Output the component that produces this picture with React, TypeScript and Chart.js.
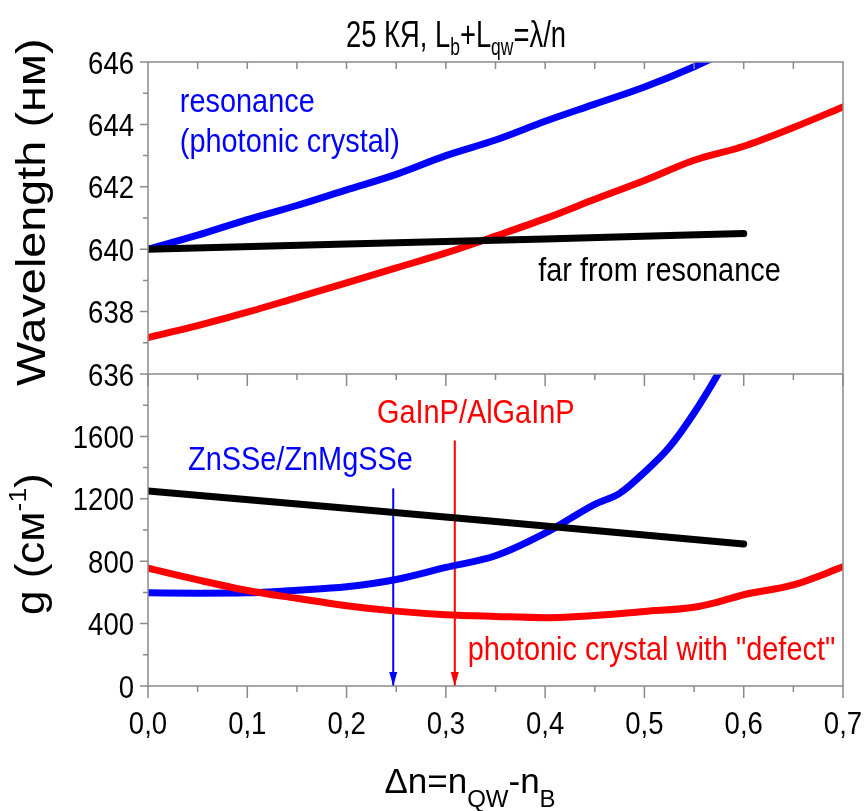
import React, { useEffect, useRef } from 'react';
import { Chart, registerables } from 'chart.js';

Chart.register(...registerables);

// ---------- data ----------
const xResonance = [0, 0.05, 0.1, 0.15, 0.2, 0.25, 0.3, 0.35, 0.4, 0.45, 0.5, 0.55, 0.6];
const wlResonance = [640.0, 640.45, 640.95, 641.4, 641.9, 642.4, 643.0, 643.5, 644.1, 644.65, 645.2, 645.85, 646.6];

const xDefect = [0, 0.05, 0.1, 0.15, 0.2, 0.25, 0.3, 0.35, 0.4, 0.45, 0.5, 0.55, 0.6, 0.65, 0.7];
const wlDefect = [637.17, 637.55, 637.98, 638.45, 638.92, 639.4, 639.88, 640.42, 640.98, 641.6, 642.2, 642.85, 643.3, 643.9, 644.56];

const xFar = [0, 0.2, 0.4, 0.6];
const wlFar = [640.0, 640.17, 640.33, 640.5];

const xGainRes = [0, 0.05, 0.1, 0.15, 0.2, 0.25, 0.3, 0.35, 0.4, 0.45, 0.475, 0.5, 0.525, 0.55, 0.575, 0.6];
const gainResonance = [597, 595, 597, 614, 636, 683, 760, 835, 980, 1165, 1235, 1370, 1530, 1750, 2010, 2300];

const xGainDefect = [0, 0.05, 0.1, 0.15, 0.2, 0.25, 0.3, 0.35, 0.4, 0.45, 0.5, 0.55, 0.575, 0.6, 0.65, 0.7];
const gainDefect = [755, 680, 612, 562, 515, 480, 457, 446, 438, 452, 478, 505, 540, 585, 648, 764];

const xGainFar = [0, 0.2, 0.4, 0.6];
const gainFar = [1250, 1140, 1025, 910];

// arrows marking material systems
const arrowX = [0.247, 0.309];
const arrowTop = [1267, 1574];

// ticks
const xTickValues = [0, 0.1, 0.2, 0.3, 0.4, 0.5, 0.6, 0.7];
const xTickLabels = ['0,0', '0,1', '0,2', '0,3', '0,4', '0,5', '0,6', '0,7'];
const xMinorStep = 0.05;
const wlTickValues = [636, 638, 640, 642, 644, 646];
const wlTickLabels = ['636', '638', '640', '642', '644', '646'];
const gTickValues = [0, 400, 800, 1200, 1600];
const gTickLabels = ['0', '400', '800', '1200', '1600'];

// ---------- styles ----------
const BLUE = '#0000ff';
const RED = '#ff0000';
const BLACK = '#000000';
const FRAME = '#8a8a8a';
const FONT = "'Liberation Sans', Arial, Helvetica, sans-serif";

type Seg = { t: string; size: number; dy?: number };

function drawRich(ctx: CanvasRenderingContext2D, segs: Seg[], x: number, y: number, sx: number, align: string, color: string) {
  ctx.save();
  ctx.fillStyle = color;
  ctx.textBaseline = 'alphabetic';
  let total = 0;
  const widths = segs.map((s) => {
    ctx.font = `${s.size}px ${FONT}`;
    const w = ctx.measureText(s.t).width * sx;
    total += w;
    return w;
  });
  let cx = x;
  if (align === 'center') cx = x - total / 2;
  else if (align === 'right') cx = x - total;
  segs.forEach((s, i) => {
    ctx.save();
    ctx.font = `${s.size}px ${FONT}`;
    ctx.translate(cx, y + (s.dy || 0));
    ctx.scale(sx, 1);
    ctx.fillText(s.t, 0, 0);
    ctx.restore();
    cx += widths[i];
  });
  ctx.restore();
  return total;
}

const annotations = [
  { text: 'resonance', x: 0.032, y: 644.39, axis: 'yW', color: BLUE },
  { text: '(photonic crystal)', x: 0.032, y: 643.11, axis: 'yW', color: BLUE },
  { text: 'far from resonance', x: 0.393, y: 638.99, axis: 'yW', color: BLACK },
  { text: 'GaInP/AlGaInP', x: 0.2306, y: 1683, axis: 'yG', color: RED },
  { text: 'ZnSSe/ZnMgSSe', x: 0.0403, y: 1382, axis: 'yG', color: BLUE },
  { text: 'photonic crystal with "defect"', x: 0.322, y: 166, axis: 'yG', color: RED },
];

const clipPlugin = {
  id: 'panelClip',
  beforeDatasetDraw(chart: any, args: any) {
    const ds = chart.data.datasets[args.index];
    const s = chart.scales[ds.yAxisID];
    const ca = chart.chartArea;
    const ctx = chart.ctx;
    ctx.save();
    ctx.beginPath();
    ctx.rect(ca.left, s.top, ca.right - ca.left, s.bottom - s.top);
    ctx.clip();
  },
  afterDatasetDraw(chart: any) {
    chart.ctx.restore();
  },
};

const decorPlugin = {
  id: 'decor',
  afterDatasetsDraw(chart: any) {
    const ctx: CanvasRenderingContext2D = chart.ctx;
    const ca = chart.chartArea;
    const xs = chart.scales.x;
    const yW = chart.scales.yW;
    const yG = chart.scales.yG;

    // arrowheads
    arrowX.forEach((v, i) => {
      const px = xs.getPixelForValue(v);
      const tip = yG.getPixelForValue(0);
      ctx.save();
      ctx.fillStyle = i === 0 ? BLUE : RED;
      ctx.beginPath();
      ctx.moveTo(px, tip);
      ctx.lineTo(px - 4, tip - 14);
      ctx.lineTo(px + 4, tip - 14);
      ctx.closePath();
      ctx.fill();
      ctx.restore();
    });

    // frame
    ctx.save();
    ctx.strokeStyle = FRAME;
    ctx.lineWidth = 1.5;
    ctx.beginPath();
    ctx.rect(ca.left, ca.top, ca.right - ca.left, ca.bottom - ca.top);
    ctx.moveTo(ca.left, yW.bottom);
    ctx.lineTo(ca.right, yW.bottom);
    ctx.stroke();

    // x ticks
    ctx.beginPath();
    const nX = Math.round((xs.max - xs.min) / xMinorStep);
    for (let k = 0; k <= nX; k++) {
      const v = xs.min + k * xMinorStep;
      const px = xs.getPixelForValue(v);
      const major = k % 2 === 0;
      const len = major ? 12 : 6;
      ctx.moveTo(px, yG.bottom);
      ctx.lineTo(px, yG.bottom + len);
      ctx.moveTo(px, yW.bottom);
      ctx.lineTo(px, yW.bottom + len);
      if (k > 0 && k < nX) {
        ctx.moveTo(px, yW.top);
        ctx.lineTo(px, yW.top + 7);
      }
    }
    // y ticks (outward, left)
    for (let v = yW.min; v <= yW.max + 1e-6; v += 1) {
      const py = yW.getPixelForValue(v);
      const len = Math.round(v) % 2 === 0 ? 8 : 5;
      ctx.moveTo(ca.left, py);
      ctx.lineTo(ca.left - len, py);
    }
    for (let v = yG.min; v < yG.max - 1e-6; v += 200) {
      const py = yG.getPixelForValue(v);
      const len = Math.round(v) % 400 === 0 ? 8 : 5;
      ctx.moveTo(ca.left, py);
      ctx.lineTo(ca.left - len, py);
    }
    ctx.stroke();
    ctx.restore();
  },
  afterDraw(chart: any) {
    const ctx: CanvasRenderingContext2D = chart.ctx;
    const xs = chart.scales.x;
    const yW = chart.scales.yW;
    const yG = chart.scales.yG;
    const ca = chart.chartArea;
    const TS = 32;
    const TSX = 0.86;

    // tick labels
    xTickValues.forEach((v, i) => {
      drawRich(ctx, [{ t: xTickLabels[i], size: TS }], xs.getPixelForValue(v), ca.bottom + 48, TSX, 'center', BLACK);
    });
    wlTickValues.forEach((v, i) => {
      drawRich(ctx, [{ t: wlTickLabels[i], size: TS }], ca.left - 14, yW.getPixelForValue(v) + 11.5, TSX, 'right', BLACK);
    });
    gTickValues.forEach((v, i) => {
      drawRich(ctx, [{ t: gTickLabels[i], size: TS }], ca.left - 14, yG.getPixelForValue(v) + 11.5, TSX, 'right', BLACK);
    });

    // title
    drawRich(
      ctx,
      [
        { t: '25 КЯ, L', size: 36 },
        { t: 'b', size: 23, dy: 8 },
        { t: '+L', size: 36 },
        { t: 'qw', size: 23, dy: 8 },
        { t: '=λ/n', size: 36 },
      ],
      456,
      47,
      0.76,
      'center',
      BLACK
    );

    // x axis title
    drawRich(
      ctx,
      [
        { t: 'Δn=n', size: 35 },
        { t: 'QW', size: 24, dy: 14 },
        { t: '-n', size: 35 },
        { t: 'B', size: 24, dy: 14 },
      ],
      470,
      793,
      1.0,
      'center',
      BLACK
    );

    // y axis titles (rotated)
    ctx.save();
    ctx.translate(45, 386);
    ctx.rotate(-Math.PI / 2);
    drawRich(ctx, [{ t: 'Wavelength (нм)', size: 40 }], 0, 0, 1.17, 'left', BLACK);
    ctx.restore();

    ctx.save();
    ctx.translate(44, 615);
    ctx.rotate(-Math.PI / 2);
    drawRich(
      ctx,
      [
        { t: 'g (см', size: 40 },
        { t: '-1', size: 24, dy: -18 },
        { t: ')', size: 40 },
      ],
      0,
      0,
      1.1,
      'left',
      BLACK
    );
    ctx.restore();

    // annotations
    annotations.forEach((a) => {
      const s = chart.scales[a.axis];
      drawRich(ctx, [{ t: a.text, size: 34 }], xs.getPixelForValue(a.x), s.getPixelForValue(a.y), 0.85, 'left', a.color);
    });
  },
};

function pts(xs: number[], ys: number[]) {
  return xs.map((x, i) => ({ x, y: ys[i] }));
}

export default function App() {
  const ref = useRef<HTMLCanvasElement | null>(null);

  useEffect(() => {
    if (!ref.current) return;
    const hidden = {
      display: true,
      ticks: { display: false },
      grid: { display: false, drawTicks: false },
      border: { display: false },
      title: { display: false },
    };
    const line = (data: any, color: string, axis: string, width = 7) => ({
      data,
      yAxisID: axis,
      borderColor: color,
      backgroundColor: color,
      borderWidth: width,
      pointRadius: 0,
      fill: false,
      cubicInterpolationMode: 'monotone',
      borderCapStyle: 'round',
      borderJoinStyle: 'round',
    });
    const chart = new Chart(ref.current, {
      type: 'line',
      data: {
        datasets: [
          line(pts(xFar, wlFar), BLACK, 'yW'),
          line(pts(xDefect, wlDefect), RED, 'yW'),
          line(pts(xResonance, wlResonance), BLUE, 'yW'),
          line(pts(xGainFar, gainFar), BLACK, 'yG'),
          line(pts(xGainDefect, gainDefect), RED, 'yG'),
          line(pts(xGainRes, gainResonance), BLUE, 'yG'),
          { ...line([{ x: arrowX[0], y: arrowTop[0] }, { x: arrowX[0], y: 0 }], BLUE, 'yG', 2), borderCapStyle: 'butt' },
          { ...line([{ x: arrowX[1], y: arrowTop[1] }, { x: arrowX[1], y: 0 }], RED, 'yG', 2), borderCapStyle: 'butt' },
        ] as any,
      },
      options: {
        animation: false,
        responsive: false,
        maintainAspectRatio: false,
        parsing: true,
        layout: { padding: { left: 148, top: 62, right: 24, bottom: 125 } },
        plugins: {
          legend: { display: false },
          tooltip: { enabled: false },
          title: { display: false },
        },
        scales: {
          x: { type: 'linear', min: 0, max: 0.7, ...hidden } as any,
          yW: { type: 'linear', position: 'left', stack: 'panels', stackWeight: 1, weight: 2, min: 636, max: 646, ...hidden } as any,
          yG: { type: 'linear', position: 'left', stack: 'panels', stackWeight: 1, weight: 1, min: 0, max: 2000, ...hidden } as any,
        },
      },
      plugins: [clipPlugin, decorPlugin],
    });
    return () => chart.destroy();
  }, []);

  return (
    <div style={{ position: 'absolute', left: 0, top: 0, width: 867, height: 811, background: '#fff' }}>
      <canvas ref={ref} width={867} height={811} style={{ display: 'block', width: 867, height: 811 }} />
    </div>
  );
}
